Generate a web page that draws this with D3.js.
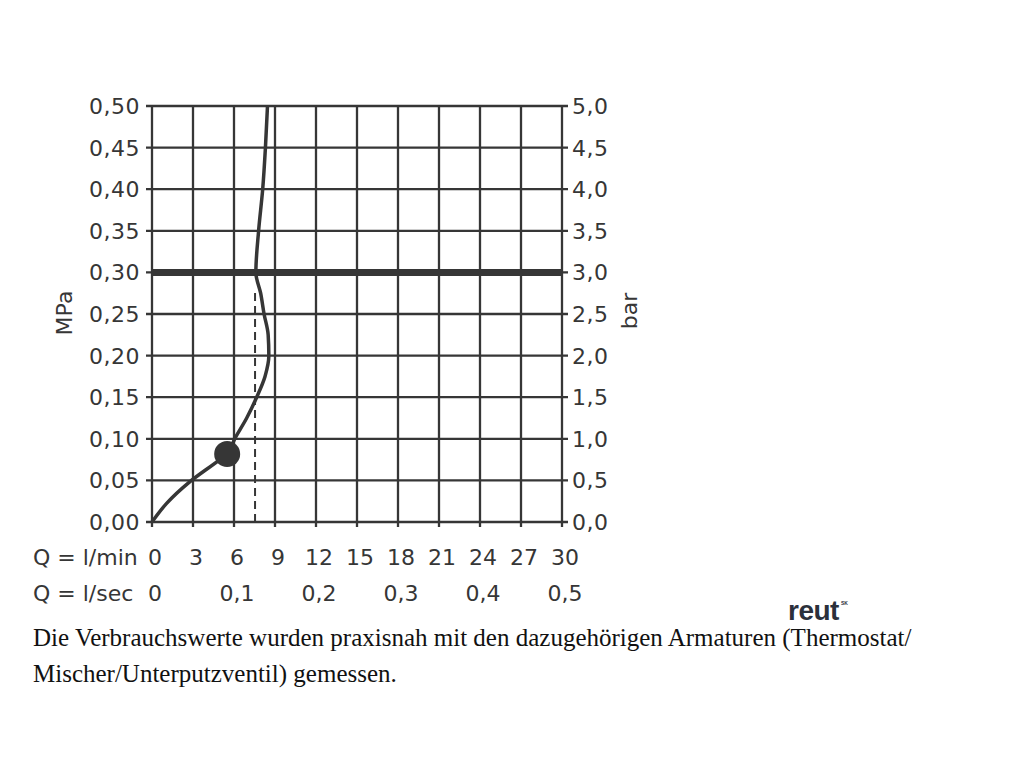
<!DOCTYPE html>
<html><head><meta charset="utf-8">
<script src="https://cdn.jsdelivr.net/npm/d3@7"></script>
<style>html,body{margin:0;padding:0;background:#fff;}svg{display:block;}</style>
</head><body>
<svg id="c" width="1024" height="768"></svg>
<script>
// ---- data ----
const qMinTicks = [0,3,6,9,12,15,18,21,24,27,30];
const qSecTicks = [0,0.1,0.2,0.3,0.4,0.5];
const mpaTicks = [0,0.05,0.10,0.15,0.20,0.25,0.30,0.35,0.40,0.45,0.50];
const barTicks = [0,0.5,1.0,1.5,2.0,2.5,3.0,3.5,4.0,4.5,5.0];
// flow curve: Q (l/min) vs pressure (MPa)
const curveQ = [0,1.07,2.78,4.98,5.46,6.07,6.93,7.66,8.27,8.55,8.5,8.2,7.95,7.6,7.8,8.1,8.3,8.45];
const curveP = [0,0.0224,0.0485,0.0753,0.0817,0.1006,0.125,0.15,0.175,0.20,0.225,0.25,0.275,0.30,0.35,0.40,0.45,0.50];
const markerQ = 5.5, markerP = 0.0817;
const dashQ = 7.54, dashP = [0,0.28];
const refP = 0.30;
const footnote = ["Die Verbrauchswerte wurden praxisnah mit den dazugehörigen Armaturen (Thermostat/",
                  "Mischer/Unterputzventil) gemessen."];

// ---- drawing ----
const svg = d3.select("#c");
const x = d3.scaleLinear().domain([0,30]).range([152,562]);
const y = d3.scaleLinear().domain([0,0.5]).range([522,106]);
const yBar = d3.scaleLinear().domain([0,5]).range([522,106]);
const xSec = d3.scaleLinear().domain([0,0.5]).range([152,562]);
const ink = "#363636";
const font = "'DejaVu Sans', sans-serif";
const fmt2 = d => d.toFixed(2).replace(".",",");
const fmt1 = d => d.toFixed(1).replace(".",",");

const g = svg.append("g");
g.selectAll("line.h").data(mpaTicks).join("line")
  .attr("x1",146).attr("x2",568)
  .attr("y1",d=>y(d)).attr("y2",d=>y(d))
  .attr("stroke",ink).attr("stroke-width",2.3);
g.selectAll("line.v").data(qMinTicks).join("line")
  .attr("x1",d=>x(d)).attr("x2",d=>x(d))
  .attr("y1",y(0.5)).attr("y2",527)
  .attr("stroke",ink).attr("stroke-width",2.3);
g.append("line").attr("x1",x(0)).attr("x2",x(30)).attr("y1",y(refP)).attr("y2",y(refP))
  .attr("stroke",ink).attr("stroke-width",7);
g.append("line").attr("x1",x(dashQ)).attr("x2",x(dashQ)).attr("y1",y(dashP[0])).attr("y2",y(dashP[1]))
  .attr("stroke",ink).attr("stroke-width",2).attr("stroke-dasharray","8,5");
const pts = curveQ.map((q,i)=>[q,curveP[i]]);
g.append("path").datum(pts)
  .attr("d", d3.line().x(d=>x(d[0])).y(d=>y(d[1])).curve(d3.curveMonotoneY))
  .attr("fill","none").attr("stroke",ink).attr("stroke-width",3.5);
g.append("circle").attr("cx",x(markerQ)).attr("cy",y(markerP)).attr("r",13).attr("fill",ink);

svg.selectAll("text.l").data(mpaTicks).join("text")
  .attr("x",140).attr("y",d=>y(d)+8).attr("text-anchor","end")
  .attr("font-family",font).attr("font-size",22).attr("fill",ink).attr("letter-spacing",0.5)
  .text(fmt2);
svg.selectAll("text.r").data(barTicks).join("text")
  .attr("x",572).attr("y",d=>yBar(d)+8).attr("text-anchor","start")
  .attr("font-family",font).attr("font-size",22).attr("fill",ink).attr("letter-spacing",0.5)
  .text(fmt1);
svg.selectAll("text.b1").data(qMinTicks).join("text")
  .attr("x",d=>x(d)+3).attr("y",565).attr("text-anchor","middle")
  .attr("font-family",font).attr("font-size",22).attr("fill",ink)
  .text(d=>d);
svg.selectAll("text.b2").data(qSecTicks).join("text")
  .attr("x",d=>xSec(d)+3).attr("y",601).attr("text-anchor","middle")
  .attr("font-family",font).attr("font-size",22).attr("fill",ink)
  .text(d=>d===0?"0":d.toFixed(1).replace(".",","));
svg.append("text").attr("x",33).attr("y",565).attr("font-family",font).attr("font-size",22).attr("fill",ink).text("Q = l/min");
svg.append("text").attr("x",33).attr("y",601).attr("font-family",font).attr("font-size",22).attr("fill",ink).text("Q = l/sec");
svg.append("text").attr("transform","translate(72,313) rotate(-90)").attr("text-anchor","middle")
  .attr("font-family",font).attr("font-size",22).attr("fill",ink).text("MPa");
svg.append("text").attr("transform","translate(637,311) rotate(-90)").attr("text-anchor","middle")
  .attr("font-family",font).attr("font-size",22).attr("fill",ink).text("bar");

svg.append("text").attr("x",788).attr("y",620).attr("font-family","'Liberation Sans', Arial, sans-serif")
  .attr("font-weight","bold").attr("font-size",28).attr("fill","#2b303b").attr("letter-spacing",-0.5).text("reut");
svg.append("text").attr("x",841).attr("y",605).attr("font-family","'Liberation Sans', Arial, sans-serif")
  .attr("font-weight","bold").attr("font-size",5).attr("fill","#2b303b").text("SK");

svg.selectAll("text.f").data(footnote).join("text")
  .attr("x",33).attr("y",(d,i)=>646+i*36)
  .attr("font-family","'Liberation Serif', 'Times New Roman', serif").attr("font-size",25).attr("fill","#111")
  .text(d=>d);
</script>
</body></html>
